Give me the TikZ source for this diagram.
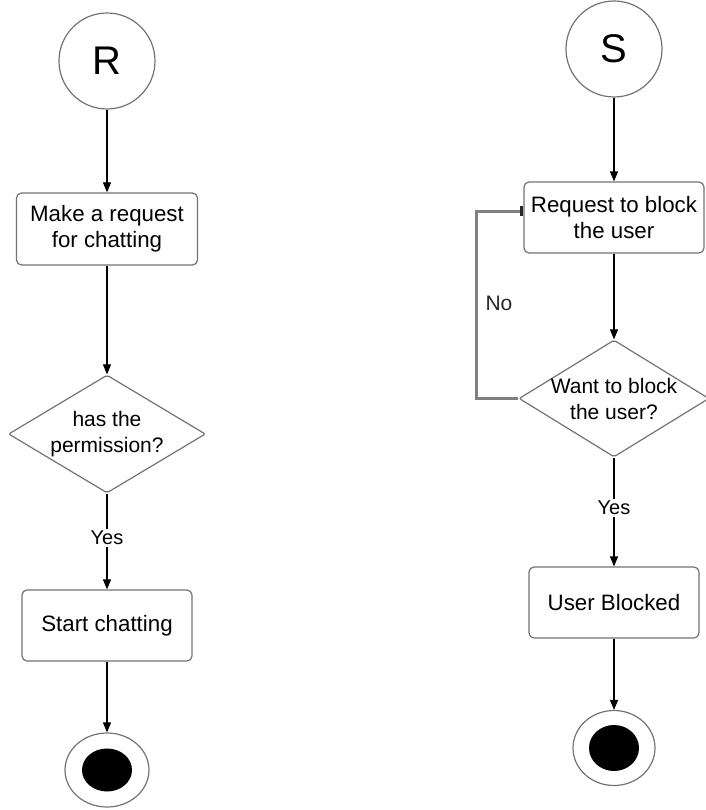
\documentclass[tikz,border=0pt]{standalone}
\usepackage{fontspec}
\setmainfont{Liberation Sans}
\usetikzlibrary{shapes.geometric,arrows.meta}
\begin{document}
\begin{tikzpicture}[x=1pt,y=-1pt,
  box/.style={draw=black!55, line width=1.2pt, rounded corners=5pt, fill=white,
    align=center, font=\fontsize{22.3}{26}\selectfont, inner sep=0pt},
  dia/.style={diamond, draw=black!55, line width=1.2pt, rounded corners=2pt,
    inner sep=0pt},
  diatext/.style={align=center, font=\fontsize{21}{26}\selectfont, inner sep=0pt},
  term/.style={circle, draw=black!55, line width=1.2pt, inner sep=0pt,
    minimum size=96pt, font=\fontsize{40}{40}\selectfont},
  endo/.style={ellipse, draw=black!55, line width=1.2pt, inner sep=0pt},
  endi/.style={ellipse, fill=black, inner sep=0pt},
  flow/.style={line width=1.2pt, -{Triangle[length=10pt,width=8pt]}},
  lbl/.style={font=\fontsize{20}{24}\selectfont, fill=white, inner sep=2pt},
  loopline/.style={draw=black!50, line width=2.4pt,
    -{Rectangle[length=3pt,width=10pt,black!85]}}
]
\useasboundingbox (0,0) rectangle (705,810);

% ---- left flow: chat request ----
\node[term] (R) at (107,61) {R};
\node[box, minimum width=181pt, minimum height=72pt] (req) at (107,229)
  {Make a request\\for chatting};
\node[dia, minimum width=197pt, minimum height=118pt] (perm) at (107,434) {};
\node[diatext] (permtxt) at (perm.center) {has the\\permission?};
\node[box, minimum width=170pt, minimum height=71pt] (chat) at (107,625.5)
  {Start chatting};
\node[endo, minimum width=84pt, minimum height=74pt] (endL) at (107,770) {};
\node[endi, minimum width=50pt, minimum height=43pt] (endLdot) at (107,770) {};

\draw[flow] (R) -- (req);
\draw[flow] (req) -- (perm);
\draw[flow] (perm) -- node[lbl, pos=0.46] (yesL) {Yes} (chat);
\draw[flow] (chat) -- (endL);

% ---- right flow: blocking a user ----
\node[term] (S) at (614,49) {S};
\node[box, minimum width=180pt, minimum height=71pt] (block) at (614,217.5)
  {Request to block\\the user};
\node[dia, minimum width=190pt, minimum height=117pt] (want) at (614,398.5) {};
\node[diatext] (wanttxt) at (want.center) {Want to block\\the user?};
\node[box, minimum width=170pt, minimum height=71pt] (blocked) at (614,602.5)
  {User Blocked};
\node[endo, minimum width=82pt, minimum height=75pt] (endR) at (614,748) {};
\node[endi, minimum width=50pt, minimum height=46pt] (endRdot) at (614,748) {};

\draw[flow] (S) -- (block);
\draw[flow] (block) -- (want);
\draw[flow] (want) -- node[lbl, pos=0.46] (yesR) {Yes} (blocked);
\draw[flow] (blocked) -- (endR);

% "No" branch loops back to the request box
\draw[loopline] (want.west) -- ++(-42,0) |- ([yshift=6pt]block.west);
\node[font=\fontsize{21}{24}\selectfont, text=black!85] (no) at (499,303) {No};
\end{tikzpicture}
\end{document}
